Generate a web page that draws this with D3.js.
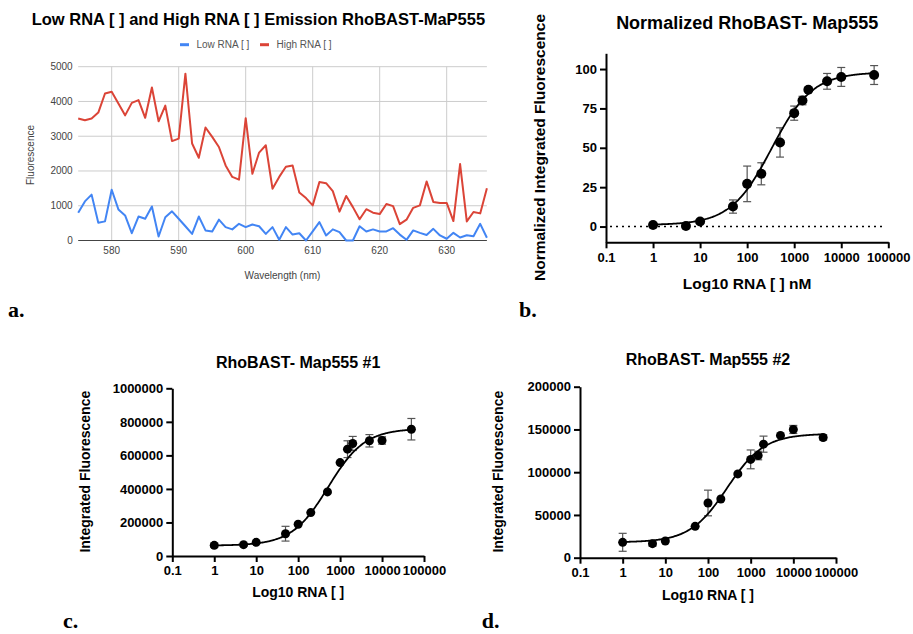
<!DOCTYPE html>
<html>
<head>
<meta charset="utf-8">
<script src="https://cdn.jsdelivr.net/npm/d3@7"></script>
<style>
  body { margin: 0; background: #fff; }
  svg { display: block; }
</style>
</head>
<body>
<script>
// --- panel a : emission spectra ---
const wavelengths = [575,576,577,578,579,580,581,582,583,584,585,586,587,588,589,590,591,592,593,594,
  595,596,597,598,599,600,601,602,603,604,605,606,607,608,609,610,611,612,613,614,
  615,616,617,618,619,620,621,622,623,624,625,626,627,628,629,630,631,632,633,634,635,636];
const highRNA = [3510,3460,3510,3680,4230,4280,3940,3600,3960,4040,3530,4400,3430,3880,2860,2930,4800,2790,2380,3250,
  2980,2690,2160,1830,1750,3520,1920,2530,2740,1490,1830,2120,2160,1380,1220,1010,1680,1650,1420,830,
  1280,960,610,900,800,760,1050,990,470,600,940,1010,1700,1110,1080,1080,560,2200,550,820,780,1500];
const lowRNA = [800,1125,1320,510,550,1460,895,720,210,690,625,980,115,670,840,625,410,190,690,290,
  260,600,385,320,480,385,460,410,190,385,20,385,170,210,0,260,530,145,320,240,
  0,0,410,260,320,260,260,355,170,20,290,220,160,335,145,50,220,85,150,120,480,80];
const yTicksA = [0, 1000, 2000, 3000, 4000, 5000];
const xTicksA = [580, 590, 600, 610, 620, 630];

// --- panels b, c, d : dose response ---
const rnaConc = [1, 5, 10, 50, 100, 200, 500, 1000, 1500, 2000, 5000, 10000, 50000];
const logTicks = [0.1, 1, 10, 100, 1000, 10000, 100000];

const normMean = [1, 0.4, 3.2, 12.7, 27.1, 33.5, 53.4, 72, 80, 86.9, 92.2, 95, 96.2];
const normErr = [0, 0, 0, 4.2, 11.3, 7, 9.3, 4.5, 2.7, 0, 5, 6, 6];
const normFit = [1, 98, 330, 1]; // bottom, top, EC50, hill
const normTicks = [0, 25, 50, 75, 100];

const rep1Mean = [63700, 67700, 81600, 133000, 189000, 259000, 382000, 557000, 637000, 671000, 687000, 689000, 756000];
const rep1Err = [13000, 0, 0, 44000, 0, 0, 0, 0, 50000, 42000, 37000, 22000, 64000];
const rep1Fit = [62000, 760000, 520, 1];
const rep1Ticks = [0, 200000, 400000, 600000, 800000, 1000000];

const rep2Mean = [18000, 16400, 19500, 36700, 64000, 68700, 98000, 115000, 119500, 132800, 143000, 150000, 140600];
const rep2Err = [10500, 3000, 0, 0, 15000, 0, 0, 11000, 5000, 9400, 0, 4700, 3000];
const rep2Fit = [18000, 145000, 280, 1];
const rep2Ticks = [0, 50000, 100000, 150000, 200000];

const FONT = '"Liberation Sans", Arial, sans-serif';

const svg = d3.select('body').append('svg')
  .attr('width', 913)
  .attr('height', 634);

// ================= panel a =================
const xA = d3.scaleLinear().domain([575, 636]).range([78.2, 486.9]);
const yA = d3.scaleLinear().domain([0, 5000]).range([240.5, 66.7]);

const gA = svg.append('g');

gA.selectAll('line.hgrid')
  .data(yTicksA.filter(d => d > 0))
  .enter().append('line')
  .attr('x1', xA.range()[0]).attr('x2', xA.range()[1])
  .attr('y1', d => yA(d)).attr('y2', d => yA(d))
  .attr('stroke', '#cccccc').attr('stroke-width', 1);

gA.selectAll('line.vgrid')
  .data(xTicksA)
  .enter().append('line')
  .attr('x1', d => xA(d)).attr('x2', d => xA(d))
  .attr('y1', yA(0)).attr('y2', yA(5000))
  .attr('stroke', '#cccccc').attr('stroke-width', 1);

gA.append('line')
  .attr('x1', xA.range()[0]).attr('x2', xA.range()[1])
  .attr('y1', yA(0)).attr('y2', yA(0))
  .attr('stroke', '#444').attr('stroke-width', 1);

gA.selectAll('text.ytick')
  .data(yTicksA)
  .enter().append('text')
  .attr('x', 72.7).attr('y', d => yA(d))
  .attr('dy', '0.35em')
  .attr('text-anchor', 'end')
  .attr('font-family', FONT).attr('font-size', 10)
  .attr('fill', '#444')
  .text(d => d);

gA.selectAll('text.xtick')
  .data(xTicksA)
  .enter().append('text')
  .attr('x', d => xA(d)).attr('y', 254)
  .attr('text-anchor', 'middle')
  .attr('font-family', FONT).attr('font-size', 10)
  .attr('fill', '#444')
  .text(d => d);

const lineA = vals => d3.line()
  .x((d, i) => xA(wavelengths[i]))
  .y(d => yA(d))(vals);

gA.append('path').attr('d', lineA(lowRNA))
  .attr('fill', 'none').attr('stroke', '#4285f4').attr('stroke-width', 2)
  .attr('stroke-linejoin', 'round');
gA.append('path').attr('d', lineA(highRNA))
  .attr('fill', 'none').attr('stroke', '#db4437').attr('stroke-width', 2)
  .attr('stroke-linejoin', 'round');

gA.append('text')
  .attr('x', 31.7).attr('y', 25)
  .attr('font-family', FONT).attr('font-size', 16.5).attr('font-weight', 'bold')
  .text('Low RNA [ ] and High RNA [ ] Emission RhoBAST-MaP555');

// legend
const legend = [
  { name: 'Low RNA [ ]', color: '#4285f4', x: 180 },
  { name: 'High RNA [ ]', color: '#db4437', x: 260 }
];
legend.forEach(l => {
  gA.append('line')
    .attr('x1', l.x).attr('x2', l.x + 9)
    .attr('y1', 44.7).attr('y2', 44.7)
    .attr('stroke', l.color).attr('stroke-width', 3);
  gA.append('text')
    .attr('x', l.x + 16.5).attr('y', 44.7)
    .attr('dy', '0.35em')
    .attr('font-family', FONT).attr('font-size', 10)
    .attr('fill', '#555')
    .text(l.name);
});

gA.append('text')
  .attr('transform', 'translate(30,155) rotate(-90)')
  .attr('text-anchor', 'middle').attr('dy', '0.35em')
  .attr('font-family', FONT).attr('font-size', 10).attr('fill', '#444')
  .text('Fluorescence');

gA.append('text')
  .attr('x', 282.5).attr('y', 279)
  .attr('text-anchor', 'middle')
  .attr('font-family', FONT).attr('font-size', 10).attr('fill', '#444')
  .text('Wavelength (nm)');

// ================= dose response panels =================
function fourPL(p, x) {
  return p[0] + (p[1] - p[0]) / (1 + Math.pow(p[2] / x, p[3]));
}

function drawDose(c) {
  const g = svg.append('g');
  const x = d3.scaleLog().domain([0.1, 100000]).range([c.left, c.right]);
  const y = d3.scaleLinear().domain(c.yDomain).range([c.bottom, c.top]);

  const axX = g.append('g')
    .attr('transform', `translate(0,${c.bottom})`)
    .call(d3.axisBottom(x).tickValues(logTicks).tickFormat(d => String(d))
      .tickSize(6).tickSizeOuter(0).tickPadding(4));
  const axY = g.append('g')
    .attr('transform', `translate(${c.left},0)`)
    .call(d3.axisLeft(y).tickValues(c.yTicks).tickFormat(d => String(d))
      .tickSize(6).tickSizeOuter(0).tickPadding(3));

  [axX, axY].forEach(a => {
    a.select('.domain').attr('stroke', '#000').attr('stroke-width', 2);
    a.selectAll('.tick line').attr('stroke', '#000').attr('stroke-width', 2);
    a.selectAll('.tick text')
      .attr('font-family', FONT).attr('font-size', 13)
      .attr('font-weight', 'bold').attr('fill', '#000');
  });

  if (c.dotted) {
    g.append('line')
      .attr('x1', c.left + 4).attr('x2', c.right - 3)
      .attr('y1', y(0)).attr('y2', y(0))
      .attr('stroke', '#000').attr('stroke-width', 1.5)
      .attr('stroke-dasharray', '2,4');
  }

  // error bars
  const eb = g.selectAll('g.err')
    .data(rnaConc.map((d, i) => ({ x: d, m: c.mean[i], e: c.err[i] })).filter(d => d.e > 0))
    .enter().append('g')
    .attr('stroke', '#555').attr('stroke-width', 1.2);
  eb.append('line')
    .attr('x1', d => x(d.x)).attr('x2', d => x(d.x))
    .attr('y1', d => y(d.m - d.e)).attr('y2', d => y(d.m + d.e));
  eb.append('line')
    .attr('x1', d => x(d.x) - 4).attr('x2', d => x(d.x) + 4)
    .attr('y1', d => y(d.m + d.e)).attr('y2', d => y(d.m + d.e));
  eb.append('line')
    .attr('x1', d => x(d.x) - 4).attr('x2', d => x(d.x) + 4)
    .attr('y1', d => y(d.m - d.e)).attr('y2', d => y(d.m - d.e));

  // fitted curve (4PL model from the fit parameters)
  const curveX = d3.range(0, 201).map(i => Math.pow(10, i * Math.log10(50000) / 200));
  g.append('path')
    .attr('d', d3.line().x(d => x(d)).y(d => y(fourPL(c.fit, d))).curve(d3.curveMonotoneX)(curveX))
    .attr('fill', 'none').attr('stroke', '#000').attr('stroke-width', 1.8);

  g.selectAll('circle')
    .data(rnaConc)
    .enter().append('circle')
    .attr('cx', d => x(d))
    .attr('cy', (d, i) => y(c.mean[i]))
    .attr('r', c.r)
    .attr('fill', '#000');

  g.append('text')
    .attr('x', (c.left + c.right) / 2).attr('y', c.titleY)
    .attr('text-anchor', 'middle')
    .attr('font-family', FONT).attr('font-size', c.titleSize).attr('font-weight', 'bold')
    .text(c.title);

  g.append('text')
    .attr('x', (c.left + c.right) / 2).attr('y', c.xLabelY)
    .attr('text-anchor', 'middle')
    .attr('font-family', FONT).attr('font-size', c.labelSize).attr('font-weight', 'bold')
    .text(c.xLabel);

  g.append('text')
    .attr('transform', `translate(${c.yLabelX},${c.yLabelY}) rotate(-90)`)
    .attr('text-anchor', 'middle').attr('dy', '0.35em')
    .attr('font-family', FONT).attr('font-size', c.labelSize).attr('font-weight', 'bold')
    .text(c.yLabel);
}

drawDose({
  left: 606, right: 888.3, top: 53.3, bottom: 242.3,
  yDomain: [-10, 110], yTicks: normTicks,
  mean: normMean, err: normErr, fit: normFit, r: 5, dotted: true,
  title: 'Normalized RhoBAST- Map555', titleY: 29.3, titleSize: 18,
  xLabel: 'Log10 RNA [ ] nM', xLabelY: 289,
  yLabel: 'Normalized Integrated Fluorescence', yLabelX: 539.5, yLabelY: 147.5,
  labelSize: 15.5
});

drawDose({
  left: 172.3, right: 424, top: 388.3, bottom: 556,
  yDomain: [0, 1000000], yTicks: rep1Ticks,
  mean: rep1Mean, err: rep1Err, fit: rep1Fit, r: 4.5, dotted: false,
  title: 'RhoBAST- Map555 #1', titleY: 368, titleSize: 16,
  xLabel: 'Log10 RNA [ ]', xLabelY: 597,
  yLabel: 'Integrated Fluorescence', yLabelX: 85, yLabelY: 471.7,
  labelSize: 14
});

drawDose({
  left: 580, right: 836, top: 386.7, bottom: 557.7,
  yDomain: [0, 200000], yTicks: rep2Ticks,
  mean: rep2Mean, err: rep2Err, fit: rep2Fit, r: 4.5, dotted: false,
  title: 'RhoBAST- Map555 #2', titleY: 365, titleSize: 16,
  xLabel: 'Log10 RNA [ ]', xLabelY: 600,
  yLabel: 'Integrated Fluorescence', yLabelX: 498.3, yLabelY: 471.7,
  labelSize: 14
});

// panel letters
const letters = [
  { t: 'a.', x: 8, y: 317 },
  { t: 'b.', x: 519, y: 317 },
  { t: 'c.', x: 63, y: 628 },
  { t: 'd.', x: 481.7, y: 628 }
];
svg.selectAll('text.letter')
  .data(letters)
  .enter().append('text')
  .attr('x', d => d.x).attr('y', d => d.y)
  .attr('font-family', '"Liberation Serif", "Times New Roman", serif')
  .attr('font-size', 22).attr('font-weight', 'bold')
  .text(d => d.t);
</script>
</body>
</html>
